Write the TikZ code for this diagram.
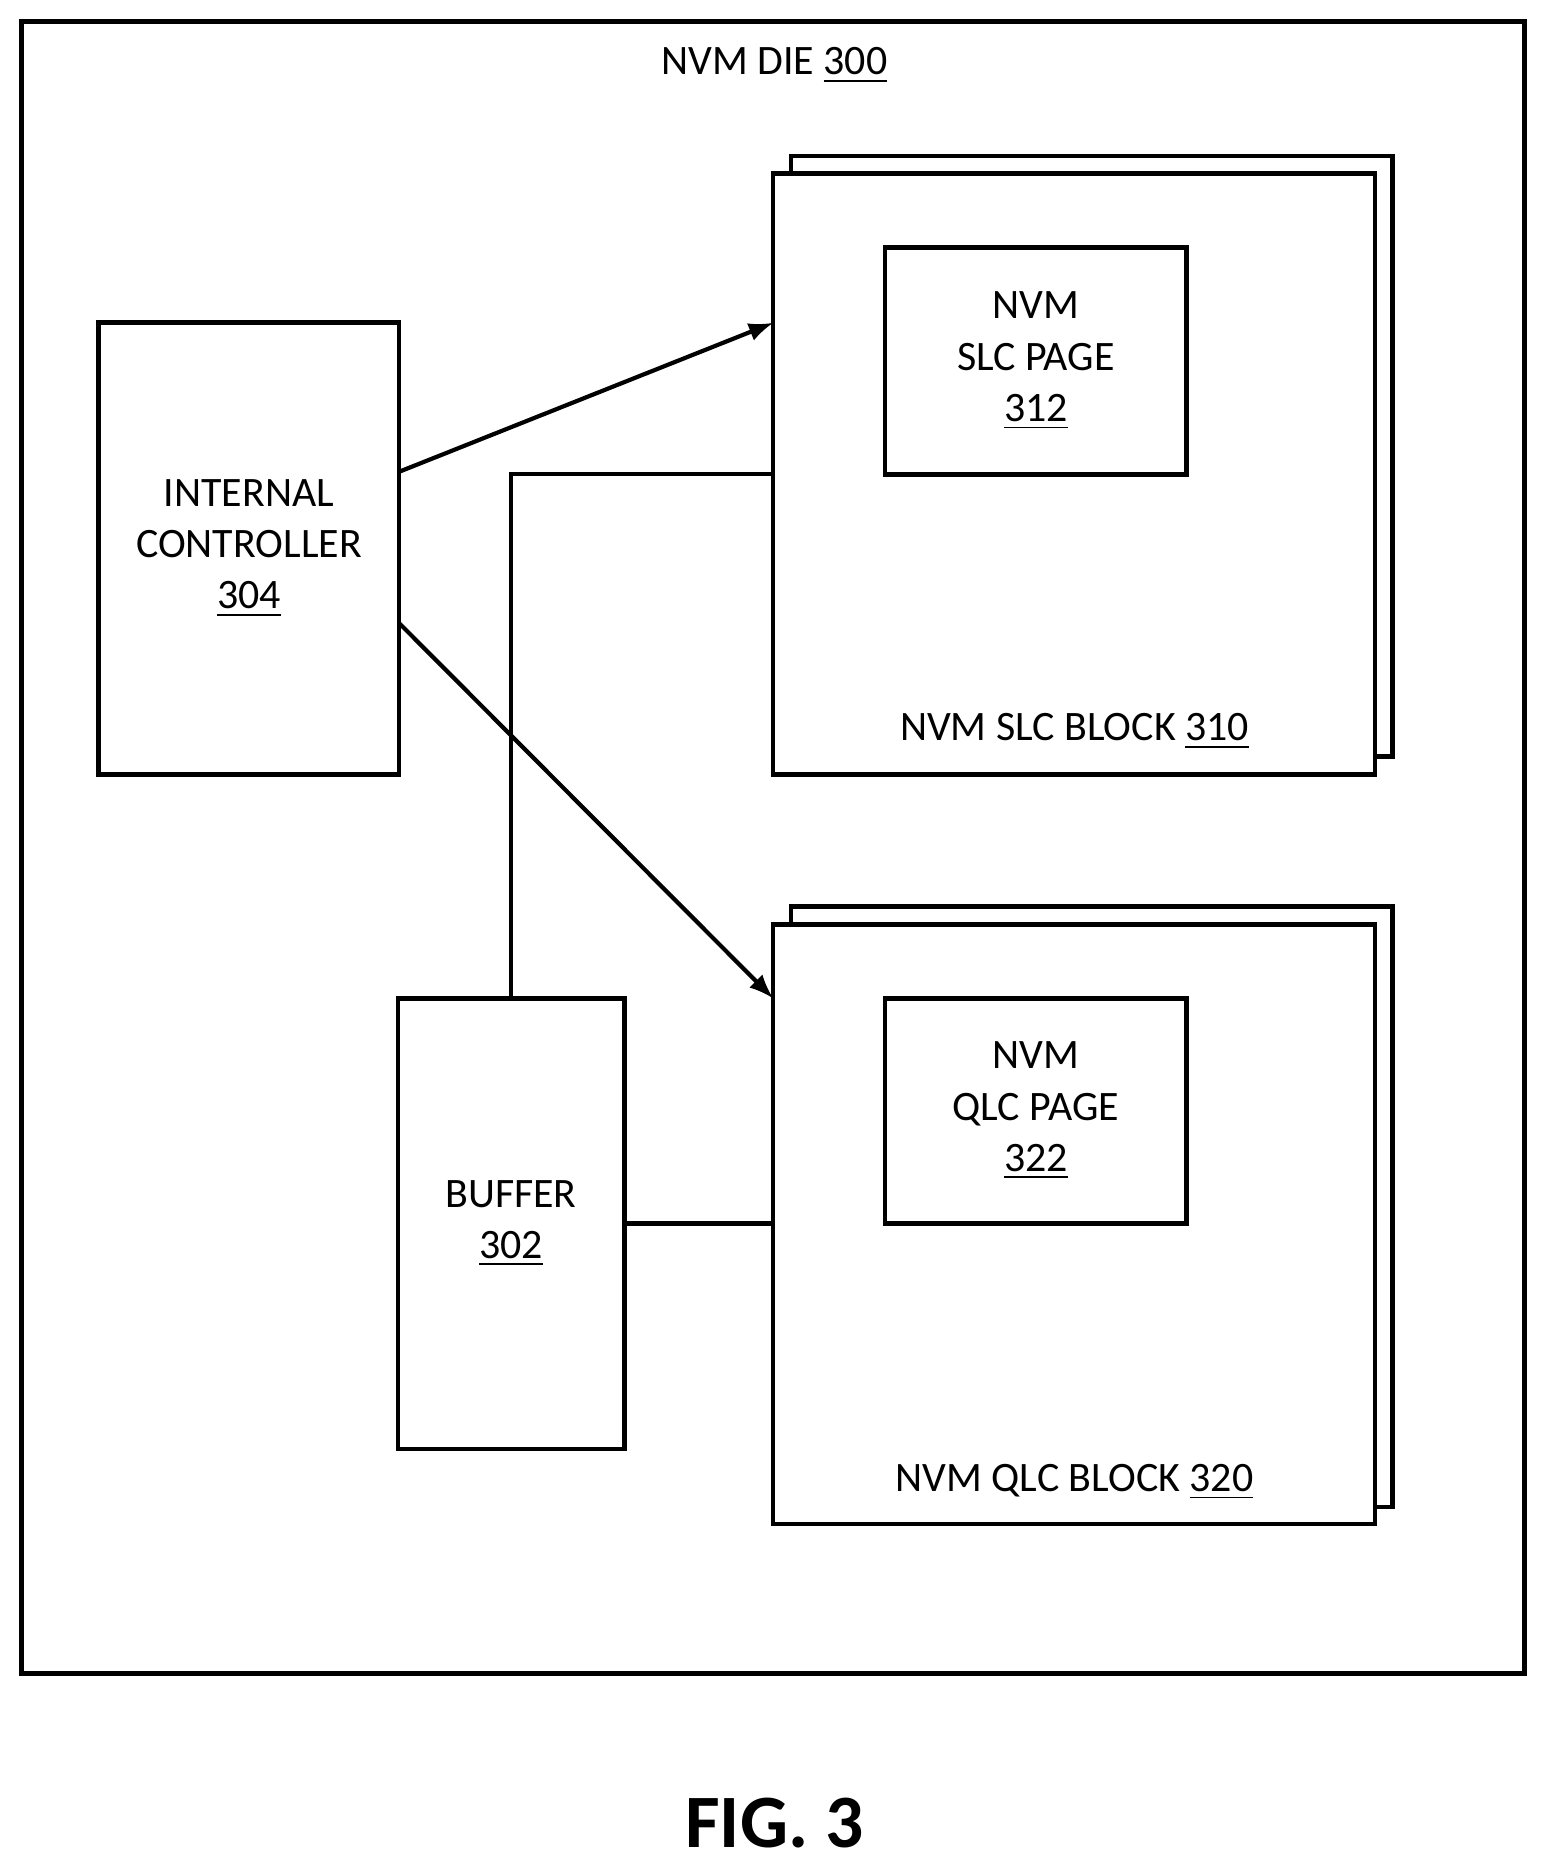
\documentclass[tikz,border=0pt]{standalone}
\usepackage{fontspec}
\setmainfont{Carlito}
\usetikzlibrary{positioning}
\tikzset{
  box/.style={draw, line width=1.1pt, fill=white, inner sep=0pt},
  lbl/.style={align=center, font=\fontsize{10}{12.2}\selectfont},
  link/.style={line width=1pt},
  arr/.style={line width=1pt, -latex}
}
\begin{document}
\begin{tikzpicture}[x=0.01cm, y=-0.01cm]
        \useasboundingbox (0,0) rectangle (1300,1568);

        %Die frame
        \draw [line width=1.2pt] (18,18) rectangle (1280,1405);
        \node [lbl] (die) at (650,55) {NVM DIE \underline{300}};

        %Internal controller
        \node [box, minimum width=2.52cm, minimum height=3.79cm] (ctrl) at (209,460.5) {};
        \node [lbl] (ctrltxt) at (ctrl) {INTERNAL\\CONTROLLER\\\underline{304}};

        %SLC block
        \draw [line width=1.1pt, fill=white] (664,131) rectangle (1169,635);
        \node [box, minimum width=5.05cm, minimum height=5.04cm] (slc) at (901.5,398) {};
        \node [box, minimum width=2.53cm, minimum height=1.9cm] (slcpage) at (869.5,303) {};
        \node [lbl] (slcpagetxt) at (slcpage) {NVM\\SLC PAGE\\\underline{312}};
        \node [lbl] (slctxt) at (902,614) {NVM SLC BLOCK \underline{310}};

        %QLC block
        \draw [line width=1.1pt, fill=white] (664,761) rectangle (1169,1265);
        \node [box, minimum width=5.05cm, minimum height=5.03cm] (qlc) at (901.5,1027.5) {};
        \node [box, minimum width=2.53cm, minimum height=1.89cm] (qlcpage) at (869.5,932.5) {};
        \node [lbl] (qlcpagetxt) at (qlcpage) {NVM\\QLC PAGE\\\underline{322}};
        \node [lbl] (qlctxt) at (902,1244) {NVM QLC BLOCK \underline{320}};

        %Buffer
        \node [box, minimum width=1.9cm, minimum height=3.78cm] (buf) at (429,1027) {};
        \node [lbl] (buftxt) at (buf) {BUFFER\\\underline{302}};

        %Connectors
        \coordinate (c1) at (335,396);
        \coordinate (c2) at (335,523);
        \coordinate (s1) at (649,271);
        \coordinate (q1) at (649,838);
        \coordinate (s2) at (649,398);
        \draw [arr]  (c1) -- (s1);
        \draw [arr]  (c2) -- (q1);
        \draw [link] (buf.north) |- (s2);
        \draw [link] (buf.east) -- (buf.east -| qlc.west);

        %Caption
        \node [font=\fontsize{18}{20}\selectfont\bfseries] (fig) at (650,1530) {FIG. 3};
\end{tikzpicture}
\end{document}
